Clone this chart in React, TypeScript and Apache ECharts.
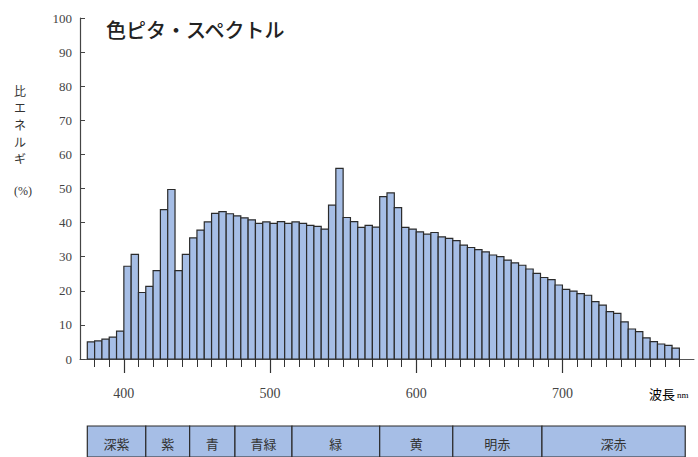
import React, { useEffect, useRef } from "react";
import * as echarts from "echarts";

// Left edge (nm) of each 5 nm bin
const wavelengths = [
  375, 380, 385, 390, 395, 400, 405, 410, 415, 420,
  425, 430, 435, 440, 445, 450, 455, 460, 465, 470,
  475, 480, 485, 490, 495, 500, 505, 510, 515, 520,
  525, 530, 535, 540, 545, 550, 555, 560, 565, 570,
  575, 580, 585, 590, 595, 600, 605, 610, 615, 620,
  625, 630, 635, 640, 645, 650, 655, 660, 665, 670,
  675, 680, 685, 690, 695, 700, 705, 710, 715, 720,
  725, 730, 735, 740, 745, 750, 755, 760, 765, 770,
  775,
];

// Relative energy (%)
const energy = [
  5.0, 5.3, 5.8, 6.4, 8.2, 27.2, 30.7, 19.5, 21.3, 25.9,
  43.8, 49.7, 25.9, 30.7, 35.5, 37.8, 40.2, 42.7, 43.2, 42.6,
  42.0, 41.4, 40.8, 39.8, 40.2, 39.8, 40.3, 39.8, 40.2, 39.8,
  39.2, 38.9, 38.1, 45.1, 55.9, 41.5, 40.3, 38.6, 39.2, 38.7,
  47.6, 48.7, 44.4, 38.6, 38.1, 37.3, 36.6, 37.1, 35.8, 35.4,
  34.7, 33.4, 32.7, 32.1, 31.4, 30.5, 30.0, 29.0, 28.2, 27.5,
  26.4, 25.1, 23.9, 23.3, 21.7, 20.4, 19.9, 19.2, 18.7, 16.8,
  15.8, 13.9, 13.4, 10.9, 8.8, 8.0, 6.2, 5.1, 4.4, 4.0,
  3.2,
];

const xTickLabels = [400, 500, 600, 700];

const bandNames = ["深紫", "紫", "青", "青緑", "緑", "黄", "明赤", "深赤"];
const bandStarts = [375, 415, 445, 476, 515, 575, 625, 686];
const bandEnds = [415, 445, 476, 515, 575, 625, 686, 784];

const BIN = 5;
const X_MIN = 370;
const X_MAX = 790;
const BAR_FILL = "#a6bee6";
const BAR_STROKE = "#2b2b2b";
const SERIF = "'Liberation Serif', 'DejaVu Serif', serif";
const CJK = "'Noto Sans CJK JP', sans-serif";

export default function App() {
  const ref = useRef<HTMLDivElement>(null);

  useEffect(() => {
    if (!ref.current) return;
    const chart = echarts.init(ref.current, null, { renderer: "svg" });

    const minorTicks: number[] = [];
    for (let v = 380; v <= 780; v += 10) minorTicks.push(v);

    const option: any = {
      animation: false,
      backgroundColor: "#ffffff",
      title: {
        text: "色ピタ・スペクトル",
        left: 101,
        top: 14,
        textStyle: { fontSize: 20, fontWeight: 500, color: "#222", fontFamily: CJK },
      },
      grid: [
        { left: 80, right: 4, top: 18, bottom: 98 },
        { left: 80, right: 4, top: 426, height: 44 },
      ],
      xAxis: [
        {
          type: "value",
          gridIndex: 0,
          min: X_MIN,
          max: X_MAX,
          position: "bottom",
          splitLine: { show: false },
          axisLine: { show: true, lineStyle: { color: "#555", width: 1 } },
          axisTick: {
            show: true,
            customValues: minorTicks,
            length: 8,
            lineStyle: { color: "#333", width: 1 },
          },
          axisLabel: { show: false },
        },
        {
          type: "value",
          gridIndex: 0,
          min: X_MIN,
          max: X_MAX,
          position: "bottom",
          splitLine: { show: false },
          axisLine: { show: false },
          axisTick: {
            show: true,
            customValues: xTickLabels,
            length: 14,
            lineStyle: { color: "#333", width: 1.2 },
          },
          axisLabel: {
            show: true,
            customValues: xTickLabels,
            margin: 27,
            fontSize: 14,
            color: "#444",
            fontFamily: SERIF,
          },
        },
        {
          type: "value",
          gridIndex: 1,
          min: X_MIN,
          max: X_MAX,
          show: false,
        },
      ],
      yAxis: [
        {
          type: "value",
          gridIndex: 0,
          min: 0,
          max: 100,
          interval: 10,
          splitLine: { show: false },
          axisLine: { show: true, lineStyle: { color: "#444", width: 1.2 } },
          axisTick: { show: true, inside: true, length: 5, lineStyle: { color: "#444" } },
          axisLabel: { margin: 8, fontSize: 13, color: "#444", fontFamily: SERIF },
        },
        { type: "value", gridIndex: 1, min: 0, max: 1, show: false },
      ],
      graphic: [
        {
          type: "text",
          left: 14,
          top: 82,
          style: {
            text: "比\nエ\nネ\nル\nギ",
            font: `12px ${CJK}`,
            lineHeight: 17,
            fill: "#333",
            textAlign: "center",
          },
        },
        {
          type: "text",
          x: 23,
          y: 191,
          style: {
            text: "(%)",
            font: `12px ${SERIF}`,
            fill: "#333",
            textAlign: "center",
            textVerticalAlign: "middle",
          },
        },
        {
          type: "text",
          x: 649,
          y: 393,
          style: {
            rich: {
              a: { fontSize: 13, fontFamily: CJK, color: "#333" },
              b: { fontSize: 9, fontFamily: SERIF, color: "#333", padding: [3, 0, 0, 2] },
            },
            text: "{a|波長}{b|nm}",
            textVerticalAlign: "middle",
          },
        },
      ],
      series: [
        {
          type: "custom",
          xAxisIndex: 0,
          yAxisIndex: 0,
          data: wavelengths.map((w, i) => [w, energy[i]]),
          encode: { x: 0, y: 1 },
          renderItem: (params: any, api: any) => {
            const start = api.value(0);
            const val = api.value(1);
            const p0 = api.coord([start, 0]);
            const p1 = api.coord([start + BIN, val]);
            return {
              type: "rect",
              shape: { x: p0[0], y: p1[1], width: p1[0] - p0[0], height: p0[1] - p1[1] },
              style: { fill: BAR_FILL, stroke: BAR_STROKE, lineWidth: 1.2 },
            };
          },
        },
        {
          type: "custom",
          xAxisIndex: 2,
          yAxisIndex: 1,
          data: bandNames.map((n, i) => [bandStarts[i], bandEnds[i], n]),
          encode: { x: [0, 1] },
          renderItem: (params: any, api: any) => {
            const s = api.value(0);
            const e = api.value(1);
            const name = bandNames[params.dataIndex];
            const p0 = api.coord([s, 1]);
            const p1 = api.coord([e, 0]);
            return {
              type: "group",
              children: [
                {
                  type: "rect",
                  shape: { x: p0[0], y: p0[1], width: p1[0] - p0[0], height: p1[1] - p0[1] },
                  style: { fill: BAR_FILL, stroke: BAR_STROKE, lineWidth: 1.2 },
                },
                {
                  type: "text",
                  x: (p0[0] + p1[0]) / 2,
                  y: p0[1] + 17,
                  style: {
                    text: name,
                    font: `13px ${CJK}`,
                    fill: "#333",
                    textAlign: "center",
                    textVerticalAlign: "middle",
                  },
                },
              ],
            };
          },
        },
      ],
    };

    chart.setOption(option);
    return () => chart.dispose();
  }, []);

  return (
    <div
      ref={ref}
      style={{ position: "fixed", left: 0, top: 0, width: 698, height: 457 }}
    />
  );
}
